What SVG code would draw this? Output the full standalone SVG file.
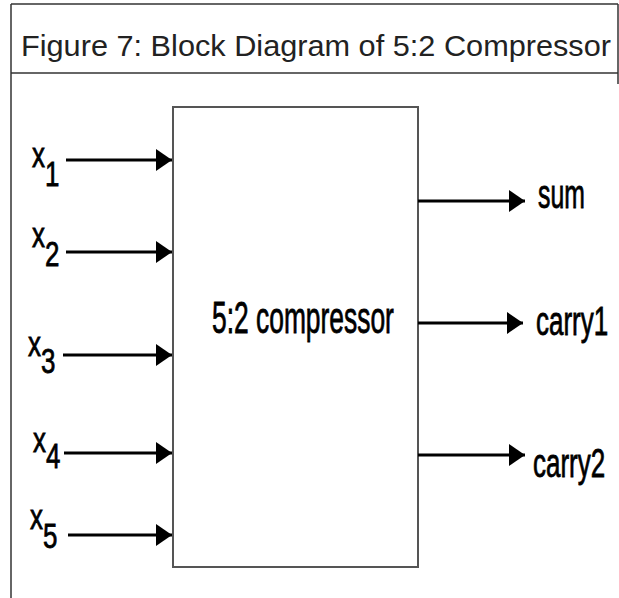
<svg xmlns="http://www.w3.org/2000/svg" width="619" height="598" viewBox="0 0 619 598">
  <style>
    .frame { stroke: #333; stroke-width: 1.5; fill: none; }
    .block { stroke: #555; stroke-width: 2; fill: #fff; }
    .wire { stroke: #000; stroke-width: 3; fill: none; marker-end: url(#head); }
    .title { font-family: "Liberation Sans", Arial, sans-serif; font-size: 30px; fill: #222; }
    .lbl { font-family: "Liberation Sans", Arial, sans-serif; fill: #000; stroke: #000; stroke-width: 0.8; }
  </style>
  <defs>
    <marker id="head" viewBox="0 0 16 22" refX="16" refY="11" markerWidth="16" markerHeight="22" markerUnits="userSpaceOnUse" orient="auto">
      <path d="M0,0 L16,11 L0,22 Z" fill="#000"/>
    </marker>
  </defs>

  <rect width="619" height="598" fill="#fff"/>

  <!-- table frame with caption row -->
  <g id="frame">
    <line class="frame" x1="11" y1="4" x2="618" y2="4"/>
    <line class="frame" x1="11" y1="73" x2="618" y2="73"/>
    <line class="frame" x1="11" y1="4" x2="11" y2="598"/>
    <line class="frame" x1="618" y1="4" x2="618" y2="84"/>
    <text class="title" x="21" y="56" textLength="590" lengthAdjust="spacingAndGlyphs">Figure 7: Block Diagram of 5:2 Compressor</text>
  </g>

  <!-- compressor block -->
  <g id="compressor">
    <rect class="block" x="173" y="107" width="245" height="460"/>
    <text class="lbl" transform="translate(212,333) scale(0.6,1)" font-size="44">5:2 compressor</text>
  </g>

  <!-- input labels: x with subscript index -->
  <g id="in-x1"><text class="lbl" transform="translate(32,167) scale(0.72,1)" font-size="36">x<tspan dy="19">1</tspan></text></g>
  <g id="in-x2"><text class="lbl" transform="translate(32,247) scale(0.72,1)" font-size="36">x<tspan dy="19">2</tspan></text></g>
  <g id="in-x3"><text class="lbl" transform="translate(28,356) scale(0.72,1)" font-size="36">x<tspan dy="17">3</tspan></text></g>
  <g id="in-x4"><text class="lbl" transform="translate(33,452) scale(0.72,1)" font-size="36">x<tspan dy="16">4</tspan></text></g>
  <g id="in-x5"><text class="lbl" transform="translate(30,529) scale(0.72,1)" font-size="36">x<tspan dy="19">5</tspan></text></g>

  <!-- output labels -->
  <g id="out-sum"><text class="lbl" transform="translate(538,208) scale(0.62,1)" font-size="40">sum</text></g>
  <g id="out-carry1"><text class="lbl" transform="translate(536,335) scale(0.65,1)" font-size="40">carry1</text></g>
  <g id="out-carry2"><text class="lbl" transform="translate(533,477) scale(0.65,1)" font-size="40">carry2</text></g>

  <!-- connectors -->
  <g id="connectors">
    <line class="wire" x1="66" y1="160" x2="172" y2="160"/>
    <line class="wire" x1="66" y1="252" x2="172" y2="252"/>
    <line class="wire" x1="63" y1="355" x2="172" y2="355"/>
    <line class="wire" x1="64" y1="453" x2="172" y2="453"/>
    <line class="wire" x1="68" y1="535" x2="172" y2="535"/>
    <line class="wire" x1="418" y1="201" x2="525" y2="201"/>
    <line class="wire" x1="418" y1="323" x2="523" y2="323"/>
    <line class="wire" x1="418" y1="455" x2="525" y2="455"/>
  </g>
</svg>
